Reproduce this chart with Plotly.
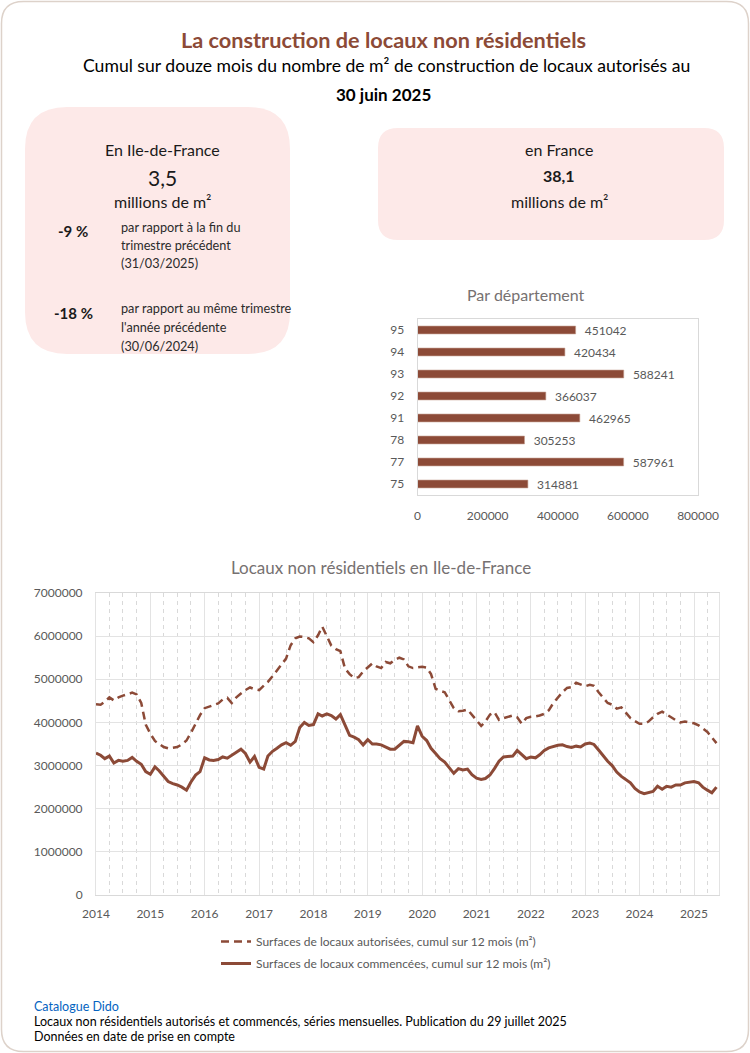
import plotly.graph_objects as go
import pandas as pd

W, H = 750, 1053

# ---------------- data ----------------
departements = ["75", "77", "78", "91", "92", "93", "94", "95"]
surface_dep = [314881, 587961, 305253, 462965, 366037, 588241, 420434, 451042]

mois = pd.date_range("2014-01-01", "2025-06-01", freq="MS")

autorisees = [
    4420000, 4410000, 4480000, 4580000, 4510000, 4580000, 4620000, 4650000, 4690000, 4650000, 4450000, 3950000,
    3740000, 3570000, 3500000, 3430000, 3400000, 3410000, 3430000, 3490000, 3580000, 3760000, 3980000, 4170000,
    4330000, 4370000, 4400000, 4440000, 4530000, 4570000, 4450000, 4580000, 4670000, 4750000, 4810000, 4770000,
    4750000, 4840000, 4940000, 5070000, 5210000, 5330000, 5480000, 5790000, 5950000, 5990000, 5980000, 5950000,
    5860000, 6020000, 6220000, 6000000, 5780000, 5700000, 5650000, 5250000, 5120000, 5030000, 5050000, 5180000,
    5270000, 5370000, 5300000, 5260000, 5400000, 5370000, 5450000, 5500000, 5460000, 5300000, 5260000, 5280000,
    5290000, 5270000, 5120000, 4780000, 4730000, 4700000, 4520000, 4330000, 4260000, 4270000, 4300000, 4180000,
    4060000, 3920000, 4020000, 4180000, 4240000, 4060000, 4100000, 4130000, 4160000, 4120000, 3970000, 4100000,
    4130000, 4140000, 4160000, 4200000, 4280000, 4450000, 4580000, 4700000, 4800000, 4820000, 4920000, 4880000,
    4840000, 4870000, 4850000, 4700000, 4580000, 4450000, 4410000, 4320000, 4350000, 4220000, 4100000, 4030000,
    3970000, 3970000, 4020000, 4120000, 4200000, 4250000, 4180000, 4120000, 4050000, 4000000, 4020000, 4000000,
    3980000, 3930000, 3850000, 3780000, 3650000, 3520000,
]

commencees = [
    3290000, 3240000, 3160000, 3220000, 3060000, 3120000, 3100000, 3120000, 3190000, 3100000, 3030000, 2860000,
    2800000, 2970000, 2880000, 2750000, 2630000, 2580000, 2550000, 2500000, 2430000, 2620000, 2780000, 2860000,
    3180000, 3130000, 3120000, 3140000, 3200000, 3170000, 3230000, 3310000, 3380000, 3280000, 3080000, 3210000,
    2960000, 2920000, 3220000, 3330000, 3400000, 3480000, 3530000, 3470000, 3560000, 3880000, 4000000, 3930000,
    3950000, 4200000, 4150000, 4200000, 4160000, 4080000, 4180000, 3950000, 3700000, 3660000, 3600000, 3480000,
    3600000, 3500000, 3500000, 3480000, 3430000, 3380000, 3380000, 3480000, 3560000, 3550000, 3530000, 3920000,
    3680000, 3580000, 3400000, 3280000, 3160000, 3080000, 2950000, 2820000, 2930000, 2900000, 2920000, 2790000,
    2710000, 2680000, 2700000, 2780000, 2930000, 3100000, 3200000, 3210000, 3220000, 3350000, 3250000, 3160000,
    3200000, 3180000, 3250000, 3350000, 3410000, 3440000, 3470000, 3480000, 3440000, 3420000, 3450000, 3430000,
    3500000, 3520000, 3490000, 3360000, 3230000, 3100000, 3000000, 2850000, 2750000, 2680000, 2600000, 2470000,
    2390000, 2350000, 2380000, 2400000, 2520000, 2450000, 2520000, 2500000, 2550000, 2550000, 2600000, 2620000,
    2630000, 2600000, 2500000, 2430000, 2370000, 2500000,
]

# ---------------- styles ----------------
BROWN = "#8c4a37"
PINK = "#fde9e8"
GRAY_TXT = "#595959"
TITLE_GRAY = "#767171"
FONT = "Lato, 'Open Sans', sans-serif"


def px(x):
    return x / W


def py(y):
    return 1 - y / H


def rounded_path(x0, y0, x1, y1, r):
    pts = [
        f"M {px(x0 + r)},{py(y0)}",
        f"L {px(x1 - r)},{py(y0)}",
        f"Q {px(x1)},{py(y0)} {px(x1)},{py(y0 + r)}",
        f"L {px(x1)},{py(y1 - r)}",
        f"Q {px(x1)},{py(y1)} {px(x1 - r)},{py(y1)}",
        f"L {px(x0 + r)},{py(y1)}",
        f"Q {px(x0)},{py(y1)} {px(x0)},{py(y1 - r)}",
        f"L {px(x0)},{py(y0 + r)}",
        f"Q {px(x0)},{py(y0)} {px(x0 + r)},{py(y0)}",
        "Z",
    ]
    return " ".join(pts)


fig = go.Figure()

# line chart
fig.add_trace(go.Scatter(
    x=mois, y=autorisees, mode="lines", name="Surfaces de locaux autorisées, cumul sur 12 mois (m²)",
    line=dict(color=BROWN, width=2.5, dash="8px,5px"), xaxis="x", yaxis="y", legendgroup="a",
))
fig.add_trace(go.Scatter(
    x=mois, y=commencees, mode="lines", name="Surfaces de locaux commencées, cumul sur 12 mois (m²)",
    line=dict(color=BROWN, width=3), xaxis="x", yaxis="y", legendgroup="b",
))

# bar chart
fig.add_trace(go.Bar(
    x=surface_dep, y=departements, orientation="h", marker=dict(color=BROWN, line=dict(color="#c8a294", width=0.6)),
    text=[f"  {v}" for v in surface_dep], textposition="outside", cliponaxis=False, constraintext="none",
    textfont=dict(color=GRAY_TXT, size=12, family=FONT), xaxis="x2", yaxis="y2", showlegend=False,
    width=0.36,
))

shapes = [
    dict(type="path", path=rounded_path(1.5, 1.5, 748.5, 1051.5, 22), xref="paper", yref="paper",
         line=dict(color="#ddd2ca", width=1.5), fillcolor="rgba(0,0,0,0)", layer="below"),
    dict(type="path", path=rounded_path(25, 107, 290, 354, 42), xref="paper", yref="paper",
         line=dict(width=0), fillcolor=PINK, layer="below"),
    dict(type="path", path=rounded_path(378, 128, 724, 240, 20), xref="paper", yref="paper",
         line=dict(width=0), fillcolor=PINK, layer="below"),
]

annotations = []


def ann(text, x, y, size, color="#1a1a1a", bold=False, xanchor="center", family=FONT):
    if bold:
        text = f"<b>{text}</b>"
    annotations.append(dict(text=text, x=px(x), y=py(y), xref="paper", yref="paper", showarrow=False,
                            xanchor=xanchor, yanchor="middle", font=dict(size=size, color=color, family=family)))


# header
ann("La construction de locaux non résidentiels", 383, 40, 21.7, BROWN, bold=True)
ann("Cumul sur douze mois du nombre de m² de construction de locaux autorisés au", 386, 66, 17.6, "#000000")
ann("30 juin 2025", 383, 94, 17, "#000000", bold=True)

# left box
ann("En Ile-de-France", 162, 149, 16)
ann("3,5", 162, 177, 21)
ann("millions de m²", 162, 202, 16)
ann("-9 %", 73, 231, 15, bold=True)
ann("par rapport à la fin du", 119, 227, 12.7, "#2b2b2b", xanchor="left")
ann("trimestre précédent", 119, 245, 12.7, "#2b2b2b", xanchor="left")
ann("(31/03/2025)", 119, 263, 12.7, "#2b2b2b", xanchor="left")
ann("-18 %", 73, 313, 15, bold=True)
ann("par rapport au même trimestre", 119, 308, 12.7, "#2b2b2b", xanchor="left")
ann("l'année précédente", 119, 327, 12.7, "#2b2b2b", xanchor="left")
ann("(30/06/2024)", 119, 346, 12.7, "#2b2b2b", xanchor="left")

# right box
ann("en France", 559, 149, 16)
ann("38,1", 559, 176, 16, bold=True)
ann("millions de m²", 559, 202, 16)

# chart titles
ann("Par département", 526, 294, 16, TITLE_GRAY)
ann("Locaux non résidentiels en Ile-de-France", 381, 567, 17, TITLE_GRAY)

# footer
ann("Catalogue Dido", 32, 1006, 12.5, "#0563c1", xanchor="left")
ann("Locaux non résidentiels autorisés et commencés, séries mensuelles. Publication du 29 juillet 2025",
    32, 1021, 12.5, "#000000", xanchor="left")
ann("Données en date de prise en compte", 32, 1036, 12.5, "#000000", xanchor="left")

fig.update_layout(
    width=W, height=H, autosize=False,
    margin=dict(l=0, r=0, t=0, b=0, pad=0, autoexpand=False),
    paper_bgcolor="white", plot_bgcolor="white",
    font=dict(family=FONT, color=GRAY_TXT, size=12),
    shapes=shapes, annotations=annotations,
    showlegend=True,
    legend=dict(x=px(216), y=py(927), xanchor="left", yanchor="top", orientation="v",
                font=dict(size=12, color=GRAY_TXT, family=FONT), tracegroupgap=3,
                bgcolor="rgba(0,0,0,0)", itemwidth=30),
    xaxis=dict(
        domain=[px(96), px(719)], anchor="y", type="date",
        range=["2014-01-01", "2025-06-18"],
        dtick="M12", tick0="2014-01-01", tickformat="%Y",
        showgrid=True, gridcolor="#e3e3e3", gridwidth=1,
        minor=dict(dtick="M3", showgrid=True, gridcolor="#d9d9d9", griddash="4px,4px", gridwidth=1),
        showline=True, linecolor="#d9d9d9", linewidth=1, mirror=True,
        ticks="", ticklabelstandoff=8, tickfont=dict(size=12, color=GRAY_TXT),
        zeroline=False, automargin=False,
    ),
    yaxis=dict(
        domain=[py(895), py(593)], anchor="x",
        range=[0, 7000000], dtick=1000000, tickformat="d",
        showgrid=True, gridcolor="#e3e3e3", gridwidth=1,
        showline=True, linecolor="#e3e3e3", linewidth=1, mirror=True,
        ticks="", ticklabelstandoff=10, tickfont=dict(size=12, color=GRAY_TXT),
        zeroline=False, automargin=False,
    ),
    xaxis2=dict(
        domain=[px(417.5), px(698)], anchor="y2",
        range=[0, 800000], dtick=200000, tickformat="d",
        showgrid=False, showline=True, linecolor="#d9d9d9", mirror=True,
        ticks="", ticklabelstandoff=10, tickfont=dict(size=12, color=GRAY_TXT),
        zeroline=False, automargin=False,
    ),
    yaxis2=dict(
        domain=[py(495), py(319)], anchor="x2", type="category",
        categoryorder="array", categoryarray=departements,
        showgrid=False, showline=True, linecolor="#d9d9d9", mirror=True,
        ticks="", ticklabelstandoff=10, tickfont=dict(size=12, color=GRAY_TXT), automargin=False,
    ),
    bargap=0.64,
)

fig.write_html(
    "out.html",
    config={"displayModeBar": False},
    post_script="document.body.style.margin='0';document.body.style.padding='0';"
                "document.documentElement.style.overflow='hidden';document.body.style.overflow='hidden';",
)
